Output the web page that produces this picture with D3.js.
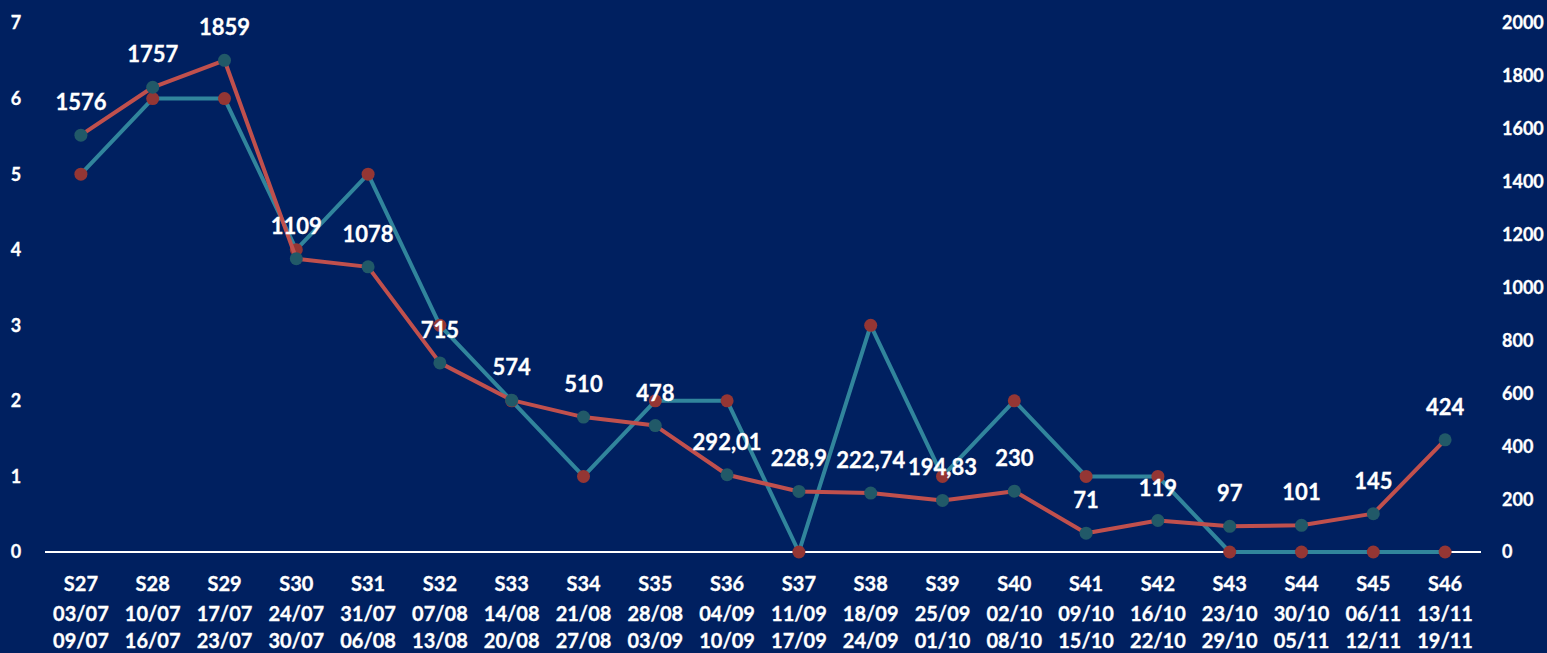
<!DOCTYPE html>
<html><head><meta charset="utf-8">
<script src="https://cdn.jsdelivr.net/npm/d3@7"></script>
<style>
html,body{margin:0;padding:0;background:#002060;}
svg{display:block;}
text{font-family:Lato,"Open Sans",sans-serif;font-weight:bold;fill:#fff;stroke:#fff;stroke-width:0.3px;}
</style></head><body>
<svg id="c" width="1547" height="653"></svg>
<script>
const weeks = ["S27","S28","S29","S30","S31","S32","S33","S34","S35","S36","S37","S38","S39","S40","S41","S42","S43","S44","S45","S46"];
const startDates = ["03/07","10/07","17/07","24/07","31/07","07/08","14/08","21/08","28/08","04/09","11/09","18/09","25/09","02/10","09/10","16/10","23/10","30/10","06/11","13/11"];
const endDates = ["09/07","16/07","23/07","30/07","06/08","13/08","20/08","27/08","03/09","10/09","17/09","24/09","01/10","08/10","15/10","22/10","29/10","05/11","12/11","19/11"];
const countSeries = [5,6,6,4,5,3,2,1,2,2,0,3,1,2,1,1,0,0,0,0];
const valueSeries = [1576,1757,1859,1109,1078,715,574,510,478,292.01,228.9,222.74,194.83,230,71,119,97,101,145,424];
const valueLabels = ["1576","1757","1859","1109","1078","715","574","510","478","292,01","228,9","222,74","194,83","230","71","119","97","101","145","424"];
const leftTicks = [0,1,2,3,4,5,6,7];
const rightTicks = [0,200,400,600,800,1000,1200,1400,1600,1800,2000];

const svg = d3.select("#c");
const x = d3.scaleBand().domain(weeks).range([45,1481]);
const cx = d => x(d) + x.bandwidth()/2;
const yL = d3.scaleLinear().domain([0,7]).range([552,23]);
const yR = d3.scaleLinear().domain([0,2000]).range([552,23]);

// left axis labels
svg.append("g").selectAll("text").data(leftTicks).join("text")
  .attr("x",16).attr("y",d=>yL(d)).attr("dy","0.36em")
  .attr("text-anchor","middle").attr("font-size",18).text(d=>d);
// right axis labels
svg.append("g").selectAll("text").data(rightTicks).join("text")
  .attr("x",1502).attr("y",d=>yR(d)).attr("dy","0.36em")
  .attr("text-anchor","start").attr("font-size",18).text(d=>d);

// baseline
svg.append("line").attr("x1",45).attr("x2",1481).attr("y1",yL(0)).attr("y2",yL(0))
  .attr("stroke","#fff").attr("stroke-width",2);

// x labels
const xl = svg.append("g").selectAll("text").data(weeks).join("text")
  .attr("text-anchor","middle").attr("font-size",20);
xl.append("tspan").attr("x",d=>cx(d)).attr("y",591).text(d=>d);
xl.append("tspan").attr("x",d=>cx(d)).attr("y",621).text((d,i)=>startDates[i]);
xl.append("tspan").attr("x",d=>cx(d)).attr("y",648).text((d,i)=>endDates[i]);

// count series (left axis) teal line, red markers
const lineL = d3.line().x((d,i)=>cx(weeks[i])).y(d=>yL(d));
svg.append("path").datum(countSeries).attr("d",lineL)
  .attr("fill","none").attr("stroke","#31859C").attr("stroke-width",4).attr("stroke-linejoin","round");
svg.append("g").selectAll("circle").data(countSeries).join("circle")
  .attr("cx",(d,i)=>cx(weeks[i])).attr("cy",d=>yL(d)).attr("r",6.5).attr("fill","#943634");

// value series (right axis) red line, teal markers
const lineR = d3.line().x((d,i)=>cx(weeks[i])).y(d=>yR(d));
svg.append("path").datum(valueSeries).attr("d",lineR)
  .attr("fill","none").attr("stroke","#C0504D").attr("stroke-width",4).attr("stroke-linejoin","round");
svg.append("g").selectAll("circle").data(valueSeries).join("circle")
  .attr("cx",(d,i)=>cx(weeks[i])).attr("cy",d=>yR(d)).attr("r",6.5).attr("fill","#215968");

// data labels
svg.append("g").selectAll("text").data(valueSeries).join("text")
  .attr("x",(d,i)=>cx(weeks[i])).attr("y",d=>yR(d)-25)
  .attr("text-anchor","middle").attr("font-size",22).text((d,i)=>valueLabels[i]);
</script>
</body></html>
